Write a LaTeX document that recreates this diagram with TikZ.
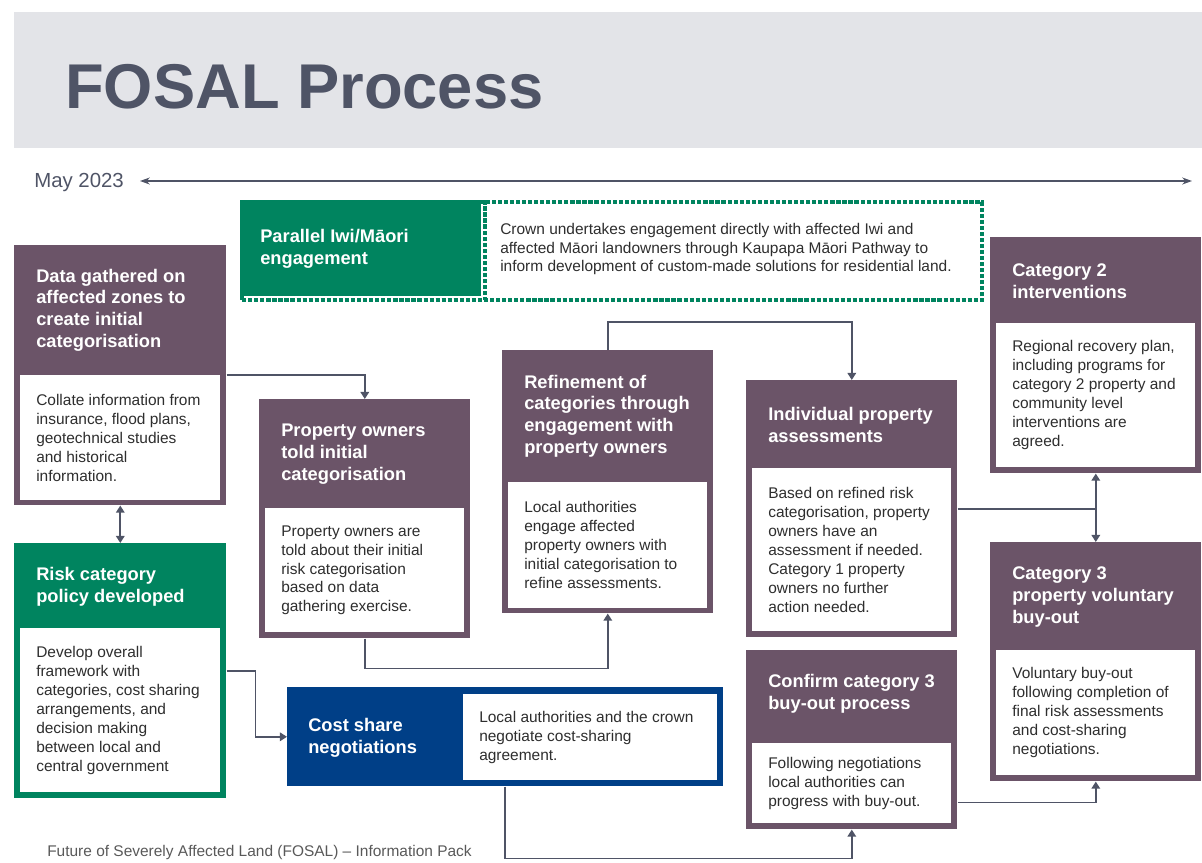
\documentclass[tikz,border=0pt]{standalone}
\usepackage{fontspec}
\setmainfont{Liberation Sans}
\usetikzlibrary{arrows.meta,positioning}

\definecolor{plum}{HTML}{6B5468}
\definecolor{fosalgreen}{HTML}{00845F}
\definecolor{navy}{HTML}{003F87}
\definecolor{slate}{HTML}{4F5466}
\definecolor{band}{HTML}{E3E4E8}
\definecolor{ink}{HTML}{2E2E2E}
\definecolor{footgray}{HTML}{595959}

\newcommand\pxu{0.025cm}

\begin{document}
\begin{tikzpicture}[
  x=0.025cm, y=-0.025cm,
  >={Triangle[length=5pt,width=6pt]},
  stage/.style 2 args={rectangle, fill=plum, anchor=north west, inner sep=0pt,
                       minimum width=#1*\pxu, minimum height=#2*\pxu},
  card/.style 2 args={rectangle, fill=white, anchor=north west, inner sep=0pt,
                      minimum width=#1*\pxu, minimum height=#2*\pxu},
  headtxt/.style={anchor=west, inner sep=0pt, align=left, text=white,
                  font=\fontsize{13}{15.4}\selectfont\bfseries},
  bodytxt/.style={anchor=west, inner sep=0pt, align=left, text=ink,
                  font=\fontsize{11}{13.5}\selectfont},
  dotframe/.style={draw=fosalgreen, line width=3pt, dash pattern=on 3pt off 1.3pt},
  flow/.style={draw=slate, line width=1.2pt, ->},
  link/.style={draw=slate, line width=1.2pt}
]
\useasboundingbox (0,0) rectangle (1202,862);

% heading band
\fill[band] (14,12) rectangle (1202,148);
\node[anchor=base west, inner sep=0pt, text=slate,
      font=\fontsize{45}{50}\selectfont\bfseries] (title) at (65,108) {FOSAL Process};

% time line
\node[anchor=west, inner sep=0pt, text=slate,
      font=\fontsize{14.5}{17}\selectfont] (may) at (34,182) {May 2023};
\coordinate (tstart) at (140,181);
\coordinate (tend) at (1192,181);
\draw[slate, line width=1pt, {Stealth[length=7pt,width=5pt]}-{Stealth[length=7pt,width=5pt]}]
  (tstart) -- (tend);

% parallel Iwi/Maori track
\node[card={740}{98}, dotframe] (par) at (240,200) {};
\node[stage={239}{94}, fill=fosalgreen] (parh) at (242,202) {};
\node[card={243}{98}, fill=none, dotframe] (parhf) at (240,200) {};
\node[headtxt] (parht) at (260,249) {Parallel Iwi/Māori\\engagement};
\node[bodytxt] (parbt) at (500,249) {Crown undertakes engagement directly with affected Iwi and\\
  affected Māori landowners through Kaupapa Māori Pathway to\\
  inform development of custom-made solutions for residential land.};

% data gathering
\node[stage={212}{260}] (data) at (14,245) {};
\node[card={200}{125}] (datab) at (20,375) {};
\node[headtxt] (datah) at (36,310) {Data gathered on\\affected zones to\\create initial\\categorisation};
\node[bodytxt, right=0.4cm of datab.west] (datat) {Collate information from\\insurance, flood plans,\\
  geotechnical studies\\and historical\\information.};

% risk policy
\node[stage={212}{255}, fill=fosalgreen] (risk) at (14,543) {};
\node[card={200}{164}] (riskb) at (20,628) {};
\node[headtxt] (riskh) at (36,587) {Risk category\\policy developed};
\node[bodytxt, right=0.4cm of riskb.west] (riskt) {Develop overall\\framework with\\
  categories, cost sharing\\arrangements, and\\decision making\\between local and\\central government};

% owners told
\node[stage={211}{239}] (told) at (259,399) {};
\node[card={199}{124}] (toldb) at (265,508) {};
\node[headtxt] (toldh) at (281,454) {Property owners\\told initial\\categorisation};
\node[bodytxt, right=0.4cm of toldb.west] (toldt) {Property owners are\\told about their initial\\
  risk categorisation\\based on data\\gathering exercise.};

% refinement
\node[stage={211}{263}] (refine) at (502,350) {};
\node[card={199}{126}] (refineb) at (508,482) {};
\node[headtxt] (refineh) at (524,416) {Refinement of\\categories through\\engagement with\\property owners};
\node[bodytxt, right=0.4cm of refineb.west] (refinet) {Local authorities\\engage affected\\
  property owners with\\initial categorisation to\\refine assessments.};

% individual assessments
\node[stage={211}{257}] (assess) at (746,380) {};
\node[card={199}{163}] (assessb) at (752,468) {};
\node[headtxt] (assessh) at (768,425) {Individual property\\assessments};
\node[bodytxt, right=0.4cm of assessb.west] (assesst) {Based on refined risk\\categorisation, property\\
  owners have an\\assessment if needed.\\Category 1 property\\owners no further\\action needed.};

% category 2
\node[stage={211}{236}] (cattwo) at (990,237) {};
\node[card={199}{144}] (cattwob) at (996,323) {};
\node[headtxt] (cattwoh) at (1012,281) {Category 2\\interventions};
\node[bodytxt, right=0.4cm of cattwob.west] (cattwot) {Regional recovery plan,\\including programs for\\
  category 2 property and\\community level\\interventions are\\agreed.};

% category 3
\node[stage={211}{239}] (catthree) at (990,542) {};
\node[card={199}{125}] (catthreeb) at (996,650) {};
\node[headtxt] (catthreeh) at (1012,597) {Category 3\\property voluntary\\buy-out};
\node[bodytxt, right=0.4cm of catthreeb.west] (catthreet) {Voluntary buy-out\\following completion of\\
  final risk assessments\\and cost-sharing\\negotiations.};

% confirm buy-out
\node[stage={211}{179}] (confirm) at (746,650) {};
\node[card={199}{80}] (confirmb) at (752,743) {};
\node[headtxt] (confirmh) at (768,694) {Confirm category 3\\buy-out process};
\node[bodytxt, right=0.4cm of confirmb.west] (confirmt) {Following negotiations\\local authorities can\\
  progress with buy-out.};

% cost share
\node[stage={436}{99}, fill=navy] (cost) at (287,687) {};
\node[card={254}{86}] (costb) at (463,694) {};
\node[headtxt] (costh) at (308,738) {Cost share\\negotiations};
\node[bodytxt, right=0.4cm of costb.west] (costt) {Local authorities and the crown\\
  negotiate cost-sharing\\agreement.};

% footer
\node[anchor=west, inner sep=0pt, text=footgray, font=\fontsize{11}{13}\selectfont]
  (foot) at (47,852) {Future of Severely Affected Land (FOSAL) – Information Pack};

% connectors
\draw[flow] (data.east) -| (told.north);
\draw[flow, <->] (data.south) -- (risk.north);
\draw[flow] (told.south) -- ++(0,30) -| (refine.south);
\draw[flow] (refine.north) -- ++(0,-28) -| (assess.north);
\coordinate (split) at (assess.east -| cattwo.south);
\draw[link] (assess.east) -- (split);
\draw[flow] (split) -- (cattwo.south);
\draw[flow] (split) -- (catthree.north);
\draw[flow] (risk.east) -- ++(29,0) |- (cost.west);
\draw[flow] (cost.south) -- ++(0,72) -| (confirm.south);
\draw[flow] ([yshift=0.675cm]confirm.south east) -| (catthree.south);
\end{tikzpicture}
\end{document}
